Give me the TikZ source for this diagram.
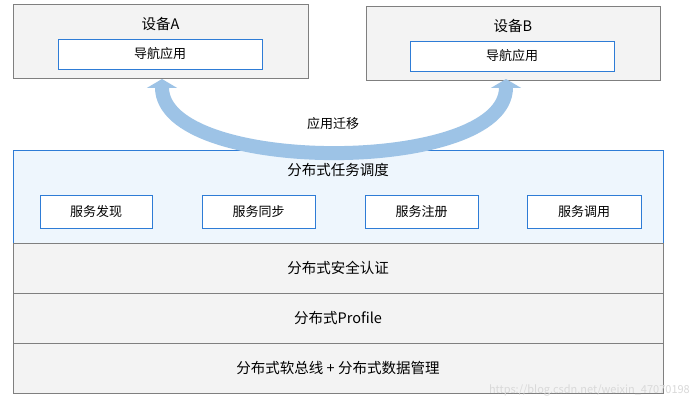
\documentclass[tikz,border=0pt]{standalone}
\usepackage{fontspec}
\setmainfont{Noto Sans CJK SC}
\usetikzlibrary{arrows.meta}
\definecolor{bluebd}{HTML}{2E7CD6}
\definecolor{grayfill}{HTML}{F3F3F3}
\definecolor{graybd}{HTML}{7F7F7F}
\definecolor{lightblue}{HTML}{EEF6FD}
\definecolor{arrowc}{HTML}{9DC3E6}
\tikzset{
  dev/.style={draw=graybd,fill=grayfill,line width=0.9pt},
  inner/.style={draw=bluebd,fill=white,line width=0.9pt},
  layer/.style={draw=graybd,fill=grayfill,line width=0.9pt},
  lbl/.style={font=\fontsize{14.5}{16}\selectfont,inner sep=0},
  sml/.style={font=\fontsize{13}{15}\selectfont,inner sep=0},
}
\begin{document}
\begin{tikzpicture}[x=1pt,y=-1pt]
\useasboundingbox[fill=white] (0,0) rectangle (696,409);
% devices
\draw[dev] (13,4) rectangle (308,78);
\node[lbl] (da) at (160.5,24) {设备A};
\draw[inner] (58,39) rectangle (262,69);
\node[sml] (na) at (160,54) {导航应用};
\draw[dev] (366,6) rectangle (660,80);
\node[lbl] (db) at (513,26) {设备B};
\draw[inner] (410,41) rectangle (614,71);
\node[sml] (nb) at (512,56) {导航应用};
% task scheduling
\draw[draw=bluebd,fill=lightblue,line width=0.9pt] (13,150) rectangle (663,243);
\node[lbl] (ts) at (338,170) {分布式任务调度};
\foreach \xa/\xb/\t [count=\i] in {40/152/服务发现,202/315/服务同步,365/478/服务注册,527/641/服务调用}{
  \draw[inner] (\xa,195) rectangle (\xb,228);
  \node[sml] (s\i) at ({(\xa+\xb)/2},211.5) {\t};
}
% arrow
\coordinate (pa) at (162,79);
\coordinate (pb) at (506,79);
\draw[arrowc,line width=14pt,{Triangle[width=30pt,length=9pt]}-{Triangle[width=30pt,length=9pt]}]
  (pa) .. controls (162,175) and (506,175) .. (pb);
\node[sml] (mig) at (333,124) {应用迁移};
% layers
\draw[layer] (13,243) rectangle (663,293);
\node[lbl] (l1) at (338,268) {分布式安全认证};
\draw[layer] (13,293) rectangle (663,343);
\node[lbl] (l2) at (338,318) {分布式Profile};
\draw[layer] (13,343) rectangle (663,393);
\node[lbl] (l3) at (338,368) {分布式软总线 + 分布式数据管理};
\node[font=\fontsize{11}{13}\selectfont,text=black!15,anchor=east,inner sep=0] (wm) at (690,390) {https://blog.csdn.net/weixin\_47070198};
\end{tikzpicture}
\end{document}
